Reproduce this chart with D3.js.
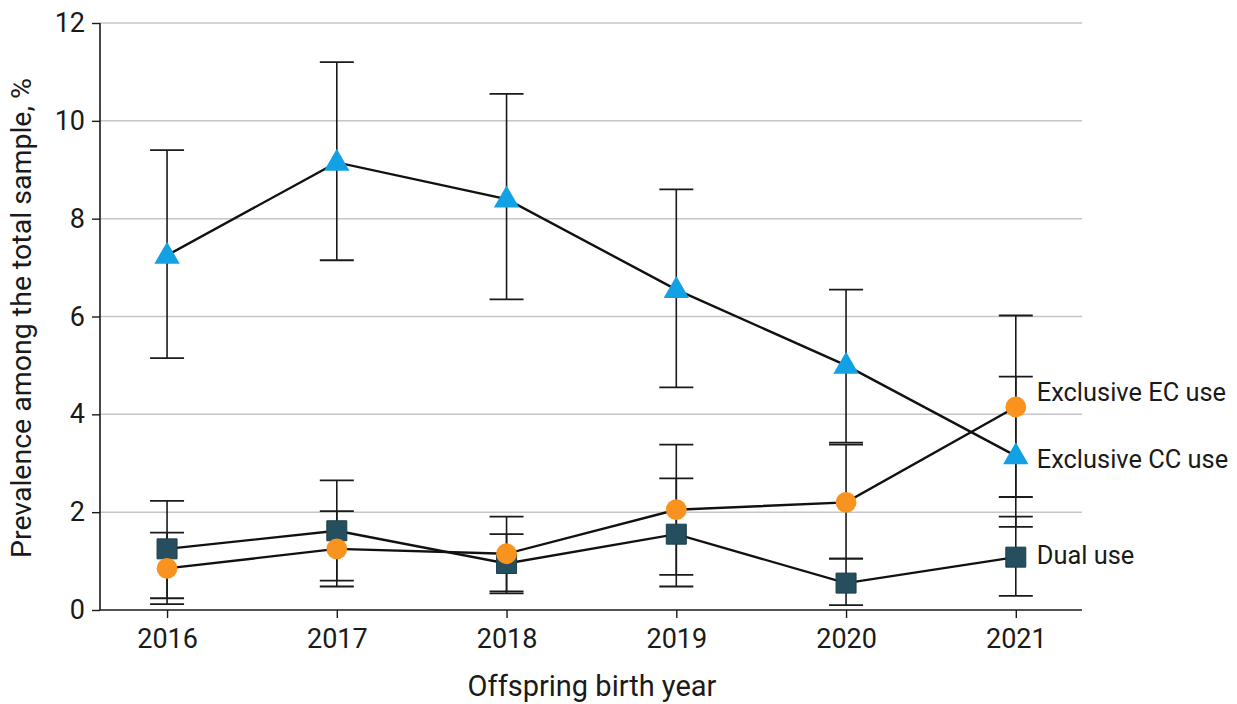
<!DOCTYPE html>
<html>
<head>
<meta charset="utf-8">
<script src="https://cdn.jsdelivr.net/npm/d3@7"></script>
<style>
  body { margin: 0; background: #fff; }
  svg text { font-family: Roboto, "Open Sans", sans-serif; fill: #1a1a1a; }
</style>
</head>
<body>
<svg id="chart" width="1237" height="704"></svg>
<script>
// Offspring birth years
const years = [2016, 2017, 2018, 2019, 2020, 2021];
const yTicks = [0, 2, 4, 6, 8, 10, 12];

// Prevalence (%) and 95% CI per series
const ccValues = [7.25, 9.15, 8.4, 6.55, 5.0, 3.15];
const ccLow    = [5.15, 7.15, 6.35, 4.55, 3.42, 1.7];
const ccHigh   = [9.4, 11.2, 10.55, 8.6, 6.55, 4.77];

const ecValues = [0.85, 1.25, 1.15, 2.05, 2.2, 4.15];
const ecLow    = [0.24, 0.48, 0.38, 0.72, 1.05, 2.31];
const ecHigh   = [1.58, 2.02, 1.91, 3.38, 3.38, 6.02];

const dualValues = [1.25, 1.62, 0.95, 1.55, 0.55, 1.08];
const dualLow    = [0.12, 0.6, 0.34, 0.48, 0.1, 0.29];
const dualHigh   = [2.23, 2.65, 1.55, 2.69, 1.05, 1.91];

const seriesNames = ["Exclusive EC use", "Exclusive CC use", "Dual use"];

function makeSeries(name, vals, lo, hi, shape, color, labelDy){
    return {
        name: name, shape: shape, color: color, labelDy: labelDy,
        points: years.map((yr, i) => ({year: yr, v: vals[i], lo: lo[i], hi: hi[i]}))
    };
}

const series = [
    makeSeries(seriesNames[2], dualValues, dualLow, dualHigh, d3.symbolSquare, "#254f5e", 0),
    makeSeries(seriesNames[0], ecValues, ecLow, ecHigh, d3.symbolCircle, "#f7931e", -13),
    makeSeries(seriesNames[1], ccValues, ccLow, ccHigh, d3.symbolTriangle, "#13a1e6", 5)
];

const svg = d3.select("#chart");
const mLeft = 100, mRight = 1082, mTop = 23, mBottom = 610;

let x = d3.scaleLinear().domain([2015.605, 2021.39]).range([mLeft, mRight]);
let y = d3.scaleLinear().domain([0, 12]).range([mBottom, mTop]);

// gridlines
svg.append("g").selectAll("line")
    .data(yTicks.filter(d => d > 0))
    .enter().append("line")
    .attr("x1", mLeft).attr("x2", mRight)
    .attr("y1", d => y(d)).attr("y2", d => y(d))
    .attr("stroke", "#c6c6c6").attr("stroke-width", 1.5);

// axes
let yAxis = d3.axisLeft(y).tickValues(yTicks).tickSize(8).tickPadding(7).tickFormat(d3.format("d"));
let yG = svg.append("g").attr("transform", `translate(${mLeft},0)`).call(yAxis);

let xAxis = d3.axisBottom(x).tickValues(years).tickSize(8).tickPadding(11).tickFormat(d3.format("d"));
let xG = svg.append("g").attr("transform", `translate(0,${mBottom})`).call(xAxis);

[yG, xG].forEach(g => {
    g.select(".domain").attr("stroke", "#1a1a1a").attr("stroke-width", 1.6);
    g.selectAll(".tick line").attr("stroke", "#1a1a1a").attr("stroke-width", 1.4);
    g.selectAll(".tick text").attr("font-size", 27).attr("fill", "#1a1a1a")
        .style("font-family", 'Roboto, "Open Sans", sans-serif');
});
// drop outer tick stubs of domain path
yG.select(".domain").attr("d", `M0,${mBottom}V${mTop}`);
xG.select(".domain").attr("d", `M${mLeft},0H${mRight}`);

// axis titles
svg.append("text")
    .attr("transform", `translate(23,318) rotate(-90)`)
    .attr("text-anchor", "middle").attr("dominant-baseline", "middle")
    .attr("font-size", 28.5)
    .text("Prevalence among the total sample, %");

svg.append("text")
    .attr("x", 592).attr("y", 688)
    .attr("text-anchor", "middle").attr("dominant-baseline", "middle")
    .attr("font-size", 29)
    .text("Offspring birth year");

// error bars
const capW = 17;
series.forEach(s => {
    let g = svg.append("g");
    g.selectAll("line.bar").data(s.points).enter().append("line")
        .attr("x1", d => x(d.year)).attr("x2", d => x(d.year))
        .attr("y1", d => y(d.lo)).attr("y2", d => y(d.hi))
        .attr("stroke", "#1a1a1a").attr("stroke-width", 1.6);
    ["lo", "hi"].forEach(k => {
        g.selectAll("line.cap" + k).data(s.points).enter().append("line")
            .attr("x1", d => x(d.year) - capW).attr("x2", d => x(d.year) + capW)
            .attr("y1", d => y(d[k])).attr("y2", d => y(d[k]))
            .attr("stroke", "#1a1a1a").attr("stroke-width", 1.8);
    });
});

// connecting lines
let line = d3.line().x(d => x(d.year)).y(d => y(d.v));
series.forEach(s => {
    svg.append("path").datum(s.points)
        .attr("d", line).attr("fill", "none")
        .attr("stroke", "#111").attr("stroke-width", 2.4);
});

// markers
series.forEach(s => {
    let size = s.shape === d3.symbolTriangle ? 280 : (s.shape === d3.symbolCircle ? 340 : 400);
    let sym = d3.symbol().type(s.shape).size(size);
    svg.append("g").selectAll("path").data(s.points).enter().append("path")
        .attr("d", sym)
        .attr("transform", d => `translate(${x(d.year)},${y(d.v) + (s.shape === d3.symbolTriangle ? 1 : 0)})`)
        .attr("fill", s.color)
        .attr("stroke", s.shape === d3.symbolSquare ? "#1d3f4b" : "none")
        .attr("stroke-width", 1);
});

// end labels
series.forEach(s => {
    let last = s.points[s.points.length - 1];
    svg.append("text")
        .attr("x", x(last.year) + 21).attr("y", y(last.v) + s.labelDy)
        .attr("dominant-baseline", "middle")
        .attr("font-size", 25.4)
        .text(s.name);
});
</script>
</body>
</html>
